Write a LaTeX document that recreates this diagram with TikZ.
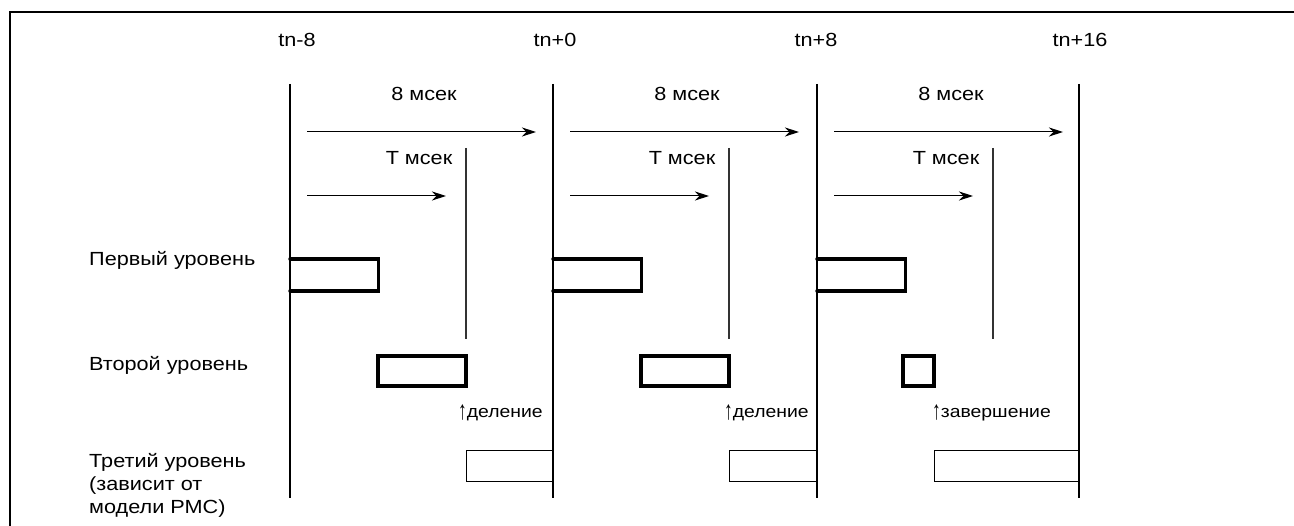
\documentclass[tikz,border=0pt]{standalone}
\usepackage{fontspec}
\setmainfont{Liberation Sans}[FakeStretch=1.14]
\usetikzlibrary{arrows.meta}
\newcommand{\uparr}{\raisebox{-0.12em}{\scalebox{0.9}[1.55]{↑}}}
\tikzset{
  lbl/.style={font=\fontsize{19}{23}\selectfont, inner sep=0pt},
  smalllbl/.style={font=\fontsize{17}{21}\selectfont, inner sep=0pt, anchor=west},
  mainline/.style={line width=1.1pt},
  tline/.style={line width=1.1pt, draw=black!80},
  timearrow/.style={line width=1pt, -{Stealth[length=14pt,width=9pt,inset=4.5pt]}},
  levelone/.style={line width=3.4pt, line cap=round, line join=miter},
  leveltwo/.style={line width=3.4pt, line join=miter},
  levelthree/.style={line width=1pt},
  frameline/.style={line width=2.6pt}
}
\begin{document}
\begin{tikzpicture}[x=1pt,y=-1pt]
\useasboundingbox (0,0) rectangle (1294,526);
% frame
\coordinate (fbl) at (10,526);
\coordinate (ftl) at (10,12);
\coordinate (ftr) at (1294,12);
\draw[frameline] (fbl) -- (ftl) -- (ftr);

% main time lines and labels
\foreach \i/\x/\lx/\t in {0/290/297/tn-8, 1/553/555/tn+0, 2/817/816/tn+8, 3/1079/1080/tn+16}{
  \coordinate (top\i) at (\x,84);
  \coordinate (bot\i) at (\x,498);
  \draw[mainline] (top\i) -- (bot\i);
  \node[lbl] (tn\i) at (\lx,40) {\t};
}

% periods
\foreach \i/\b in {0/290, 1/553, 2/817}{
  \node[lbl] (eight\i) at (\b+134,94) {8 мсек};
  \coordinate (as\i) at (\b+17,132);
  \coordinate (ae\i) at (\b+246,132);
  \draw[timearrow] (as\i) -- (ae\i);
  \node[lbl] (tms\i) at (\b+129,158) {Т мсек};
  \coordinate (ts\i) at (\b+17,196);
  \coordinate (te\i) at (\b+156,196);
  \draw[timearrow] (ts\i) -- (te\i);
  \coordinate (tlt\i) at (\b+176,148);
  \coordinate (tlb\i) at (\b+176,339);
  \draw[tline] (tlt\i) -- (tlb\i);
  % first level
  \coordinate (fa\i) at (\b,259);
  \coordinate (fb\i) at (\b+88.5,259);
  \coordinate (fc\i) at (\b+88.5,291);
  \coordinate (fd\i) at (\b,291);
  \draw[levelone] (fa\i) -- (fb\i) -- (fc\i) -- (fd\i);
}

% second level boxes
\foreach \i/\l/\r in {0/378/466, 1/641/729, 2/903/934}{
  \coordinate (sa\i) at (\l,356);
  \coordinate (sb\i) at (\r,386);
  \draw[leveltwo] (sa\i) rectangle (sb\i);
}
\node[smalllbl] (div0) at (458,413) {\uparr деление};
\node[smalllbl] (div1) at (724,413) {\uparr деление};
\node[smalllbl] (fin2) at (932,413) {\uparr завершение};

% third level boxes
\foreach \i/\l/\r in {0/466/553, 1/729/817, 2/934/1079}{
  \coordinate (ua\i) at (\r,451);
  \coordinate (ub\i) at (\l,451);
  \coordinate (uc\i) at (\l,482);
  \coordinate (ud\i) at (\r,482);
  \draw[levelthree] (ua\i) -- (ub\i) -- (uc\i) -- (ud\i);
}

% left labels
\node[lbl, anchor=west] (lev1) at (89,260) {Первый уровень};
\node[lbl, anchor=west] (lev2) at (89,365) {Второй уровень};
\node[lbl, anchor=west, align=left] (lev3) at (89,485) {Третий уровень\\(зависит от\\модели РМС)};
\end{tikzpicture}
\end{document}
